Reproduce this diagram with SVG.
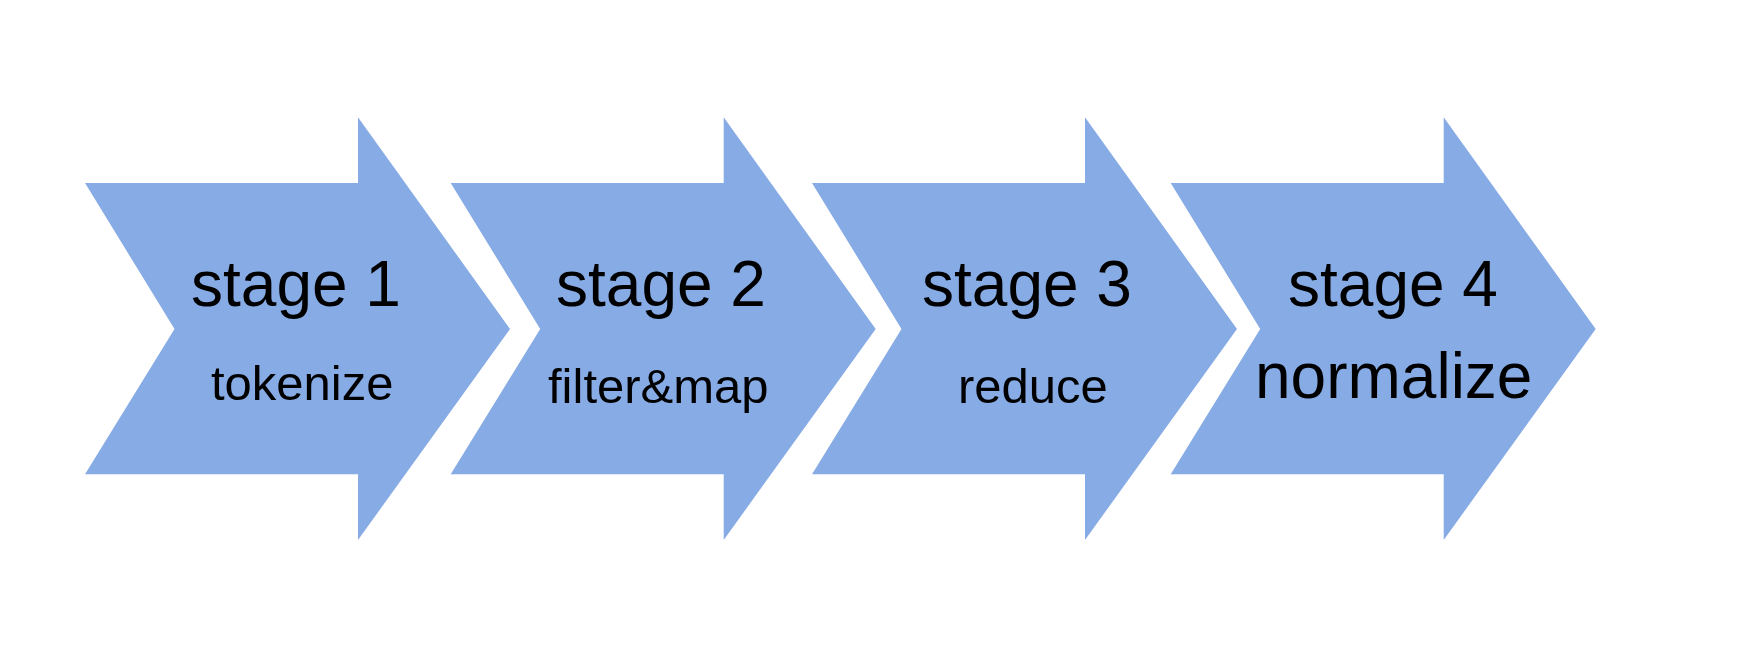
<svg xmlns="http://www.w3.org/2000/svg" width="1752" height="666" viewBox="0 0 1752 666">
<style>
.arrow{fill:#87ABE5;stroke:none}
.t1{font-family:"Liberation Sans",Arial,sans-serif;font-size:64px;fill:#000}
.t2{font-family:"Liberation Sans",Arial,sans-serif;font-size:49px;fill:#000}
</style>
<defs>
<polygon id="chev" points="0,0 273,0 273,-65.7 425,146 273,357 273,291.3 0,291.3 89.5,146"/>
</defs>
<rect width="1752" height="666" fill="#fff"/>
<g id="stage1">
<use href="#chev" class="arrow" x="85" y="183"/>
<text class="t1" x="191" y="306">stage 1</text>
<text class="t2" x="211" y="400">tokenize</text>
</g>
<g id="stage2">
<use href="#chev" class="arrow" x="450.7" y="183"/>
<text class="t1" x="556" y="306">stage 2</text>
<text class="t2" x="548" y="403">filter&amp;map</text>
</g>
<g id="stage3">
<use href="#chev" class="arrow" x="812" y="183"/>
<text class="t1" x="922" y="306">stage 3</text>
<text class="t2" x="958" y="403">reduce</text>
</g>
<g id="stage4">
<use href="#chev" class="arrow" x="1170.7" y="183"/>
<text class="t1" x="1288" y="306">stage 4</text>
<text class="t1" x="1255" y="398">normalize</text>
</g>
<g id="connectors"></g>
</svg>
